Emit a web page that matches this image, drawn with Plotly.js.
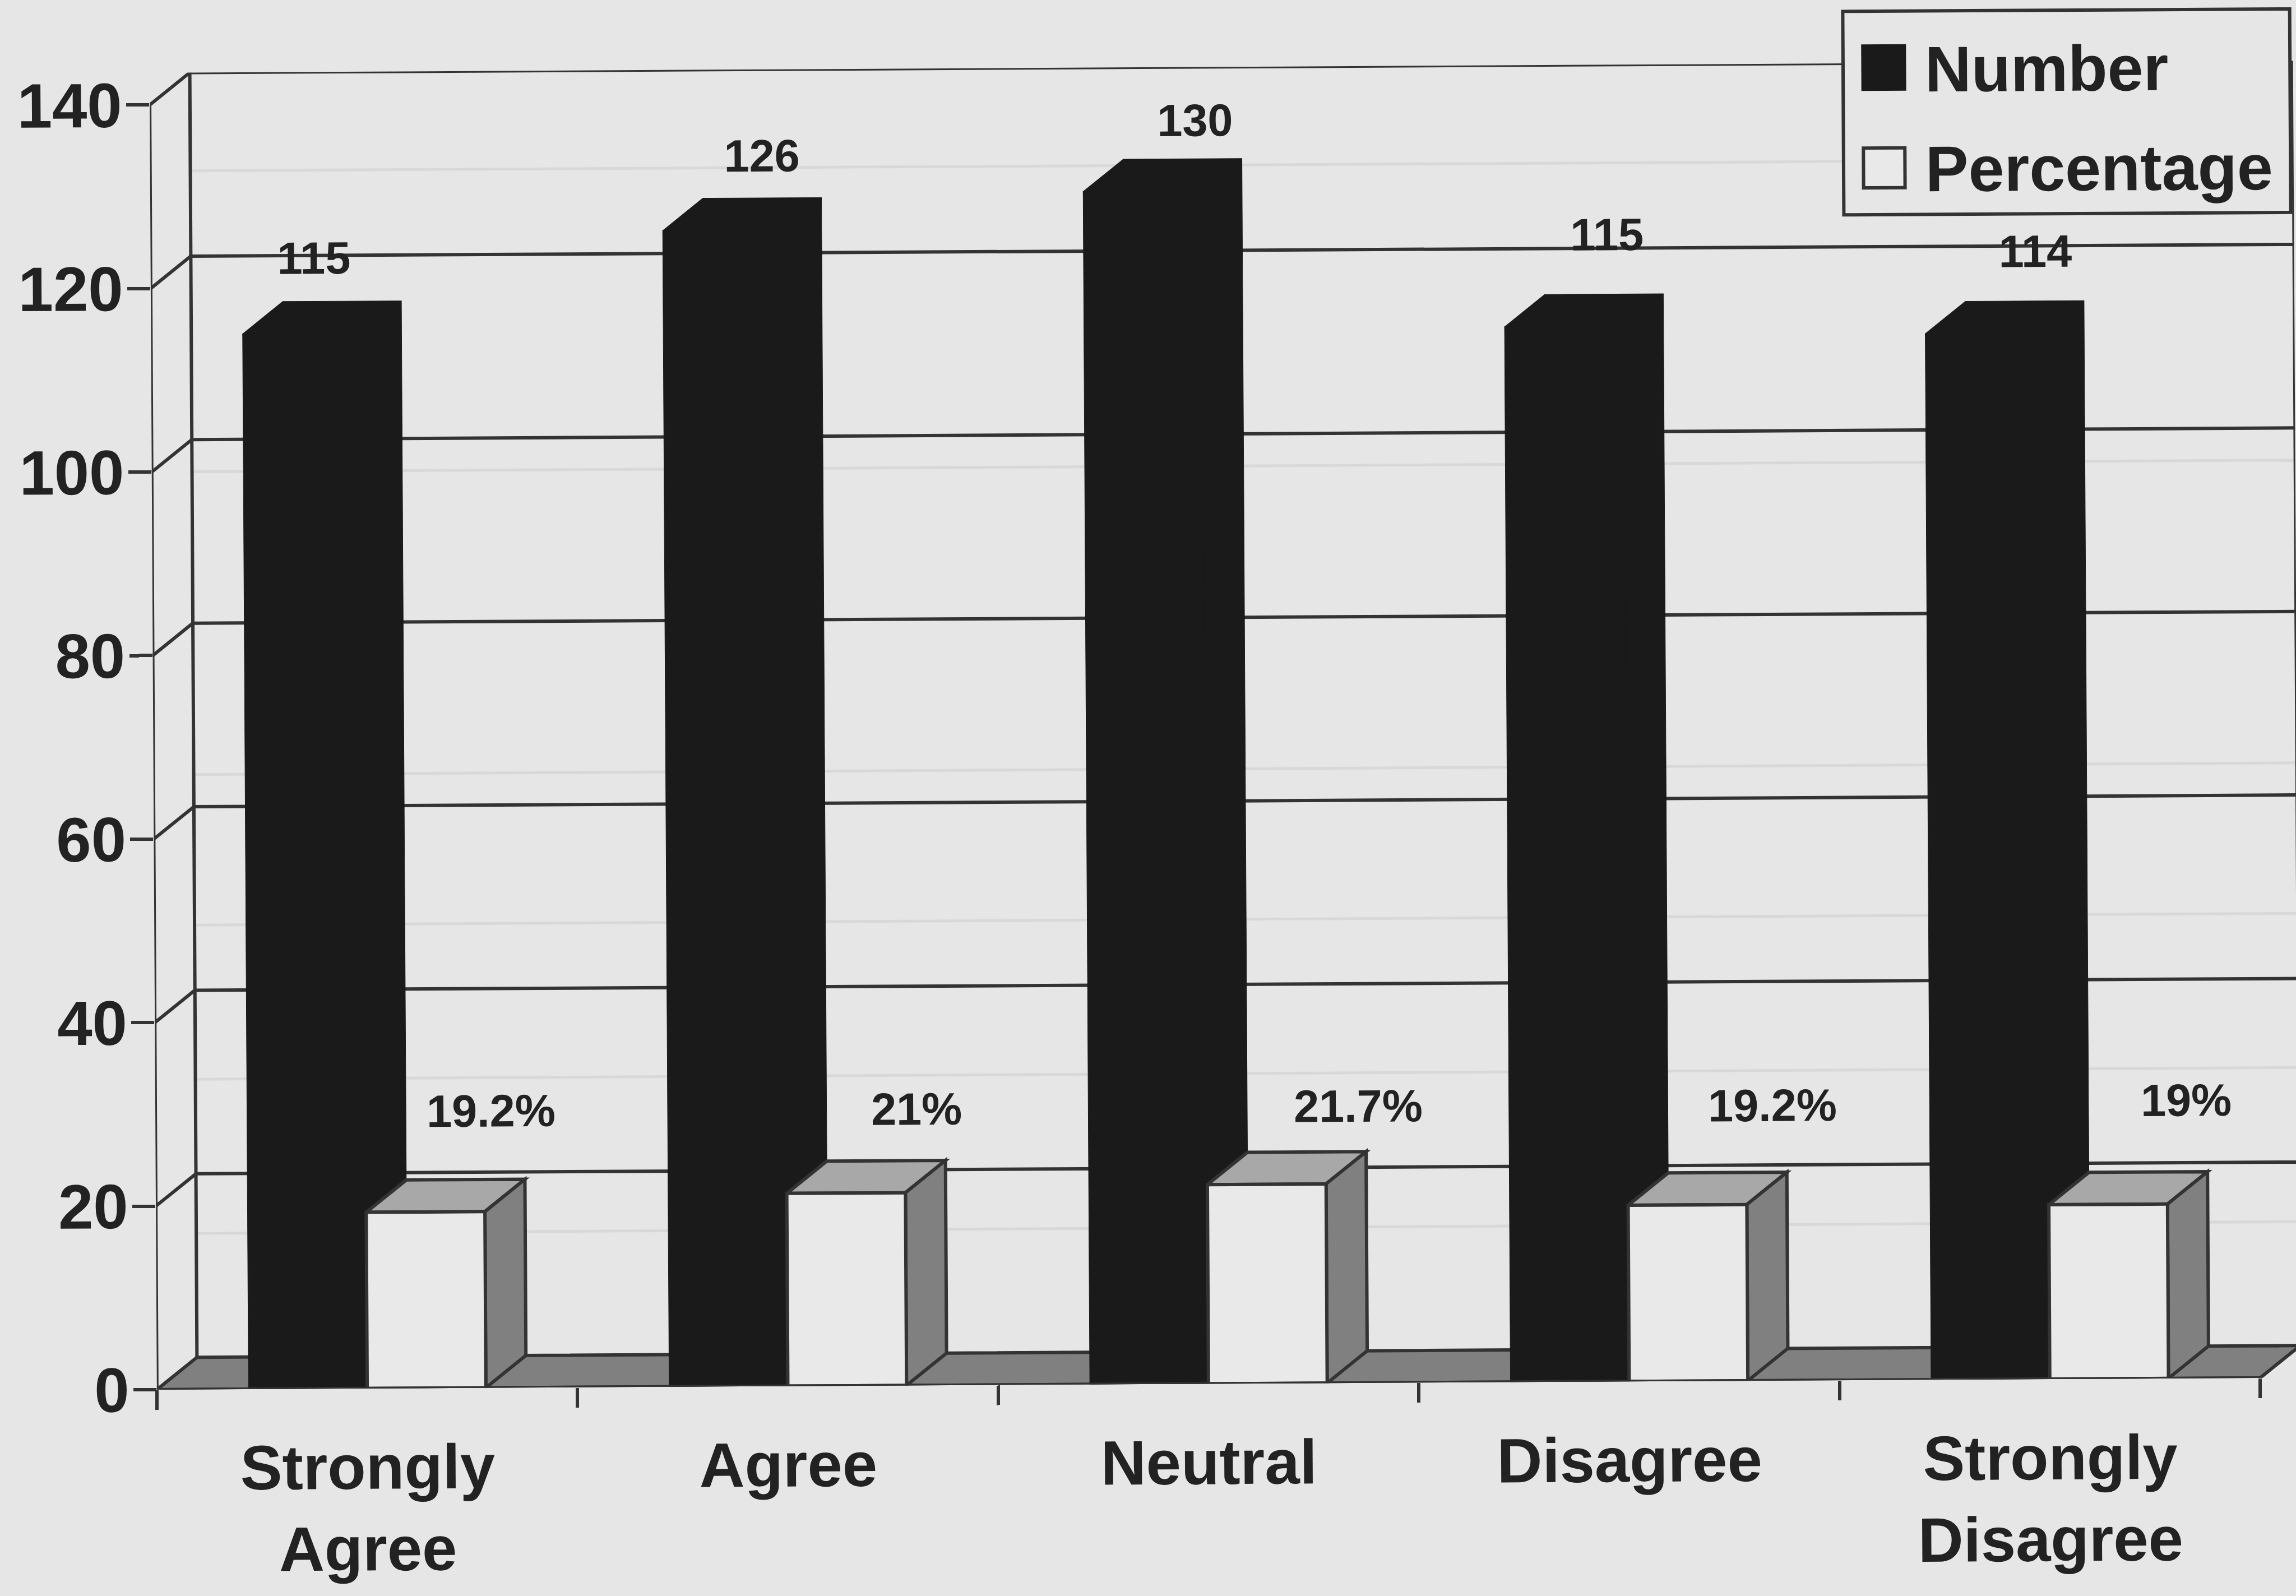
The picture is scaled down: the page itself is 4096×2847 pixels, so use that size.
<!DOCTYPE html>
<html>
<head>
<meta charset="utf-8">
<script src="https://cdn.plot.ly/plotly-3.0.1.min.js"></script>
<style>
  html, body { margin: 0; padding: 0; width: 4096px; height: 2847px; overflow: hidden; background: #e6e6e6; }
  #chart { width: 4200px; height: 2847px; transform-origin: 2048px 1423.5px; transform: rotate(-0.32deg); }
</style>
</head>
<body>
<div id="chart"></div>
<script>
// Survey responses: counts and shares per answer
const categories = ['Strongly<br>Agree', 'Agree', 'Neutral', 'Disagree', 'Strongly<br>Disagree'];
const numberValues = [115, 126, 130, 115, 114];
const percentValues = [19.2, 21, 21.7, 19.2, 19];
const yTicks = [0, 20, 40, 60, 80, 100, 120, 140];

// Hand-placed label anchors, in axis units
const numberLabelX = [-0.111, 0.954, 1.984, 2.963, 3.981];
const numberLabelY = [123.2, 134.1, 137.7, 125.0, 122.9];
const percentLabelX = [0.298, 1.31, 2.36, 3.344, 4.328];
const percentLabelY = [30.2, 30.1, 30.2, 30.0, 30.3];

// Faint lines printed through from the other side of the sheet, in axis units
const throughLevels = [132.8, 100, 67, 50.6, 33.8, 17];

// Extrusion of the pseudo-3D box, in axis units
const depthX = 0.0957;
const depthY = 3.5;
const barWidth = 0.282;

const INK = '#333333';
const BLACK = '#1a1a1a';
const PAPER = '#e6e6e6';
const FACE = '#e9e9e9';
const SIDE = '#808080';
const TOP = '#a8a8a8';
const LINE = 6;
const FONT = '"Liberation Sans", Arial, sans-serif';

const margin = { l: 273.5, r: 101.5, t: 119.7, b: 378, pad: 0 };
const plotW = 4200 - margin.l - margin.r;
const plotH = 2847 - margin.t - margin.b;
const px = x => (x - margin.l) / plotW;
const py = y => 1 - (y - margin.t) / plotH;

const xLeft = -0.5;
const xRight = categories.length - 0.5;

const poly = pts => 'M' + pts.map(p => p[0] + ',' + p[1]).join('L') + 'Z';
const shapes = [];

function face(pts, fill, layer) {
  shapes.push({ type: 'path', xref: 'x', yref: 'y', layer: layer || 'below', path: poly(pts),
                fillcolor: fill, line: { color: INK, width: LINE } });
}
function segment(x0, y0, x1, y1, layer) {
  shapes.push({ type: 'line', xref: 'x', yref: 'y', layer: layer || 'below', x0, y0, x1, y1,
                line: { color: INK, width: LINE } });
}

throughLevels.forEach(v => shapes.push({
  type: 'line', xref: 'x', yref: 'y', layer: 'below', x0: xLeft + depthX, x1: xRight + depthX, y0: v, y1: v,
  line: { color: '#d8d8d8', width: 5 }
}));

// Floor and walls
face([[xLeft, 0], [xLeft + depthX, depthY], [xRight + depthX, depthY], [xRight, 0]], SIDE);
segment(xLeft + depthX, depthY, xLeft + depthX, 140 + depthY);
segment(xRight + depthX, depthY, xRight + depthX, 140 + depthY);
segment(xLeft, 0, xLeft, 140);
yTicks.filter(v => v > 0).forEach(v => {
  segment(xLeft, v, xLeft + depthX, v + depthY);
  segment(xLeft + depthX, v + depthY, xRight + depthX, v + depthY);
});

// Depth of the black bars: a single dark silhouette
numberValues.forEach((v, i) => {
  const a = i - barWidth, b = i;
  shapes.push({ type: 'path', xref: 'x', yref: 'y', layer: 'below',
    path: poly([[a, v], [a + depthX, v + depthY], [b + depthX, v + depthY], [b + depthX, depthY], [b, 0]]),
    fillcolor: BLACK, line: { color: BLACK, width: 1 } });
});

// Depth of the pale bars: grey top and side
percentValues.forEach((v, i) => {
  const a = i, b = i + barWidth;
  face([[a, v], [a + depthX, v + depthY], [b + depthX, v + depthY], [b, v]], TOP);
  face([[b, 0], [b + depthX, depthY], [b + depthX, v + depthY], [b, v]], SIDE);
});

segment(xLeft, 0, xRight, 0, 'above');

// Legend panel
const box = (x0, y0, x1, y1, fill, color) => shapes.push({
  type: 'rect', xref: 'paper', yref: 'paper', layer: 'above',
  x0: px(x0), x1: px(x1), y0: py(y0), y1: py(y1), fillcolor: fill, line: { color, width: LINE }
});
box(3295.5, 27, 4093, 390, PAPER, INK);
box(3331, 89, 3405, 166, BLACK, BLACK);
box(3331, 271, 3405, 342, FACE, INK);

const valueLabel = (x, y, text) => ({
  x, y, xref: 'x', yref: 'y', text, showarrow: false, xanchor: 'center', yanchor: 'middle',
  font: { family: FONT, size: 81, color: '#222222', weight: 700 }
});
const legendLabel = (y, text) => ({
  x: px(3439), y: py(y), xref: 'paper', yref: 'paper', text, showarrow: false, xanchor: 'left', yanchor: 'middle',
  font: { family: FONT, size: 115, color: '#222222', weight: 700 }
});

const annotations = [
  ...numberValues.map((v, i) => valueLabel(numberLabelX[i], numberLabelY[i], String(v))),
  ...percentValues.map((v, i) => valueLabel(percentLabelX[i], percentLabelY[i], v + '%')),
  legendLabel(131, 'Number'),
  legendLabel(309, 'Percentage')
];

const traces = [
  { type: 'bar', name: 'Number', x: categories, y: numberValues,
    marker: { color: BLACK, line: { color: BLACK, width: 1 } }, hoverinfo: 'skip' },
  { type: 'bar', name: 'Percentage', x: categories, y: percentValues,
    marker: { color: FACE, line: { color: INK, width: LINE } }, hoverinfo: 'skip' }
];

const layout = {
  width: 4200, height: 2847, margin,
  paper_bgcolor: 'rgba(0,0,0,0)', plot_bgcolor: 'rgba(0,0,0,0)',
  showlegend: false, barmode: 'group', bargap: 0.4356, bargroupgap: 0,
  font: { family: FONT, color: '#222222' },
  xaxis: {
    type: 'category', range: [xLeft, xRight + depthX], showgrid: false, zeroline: false, showline: false,
    tickson: 'boundaries', ticks: 'outside', ticklen: 35, tickwidth: 6, tickcolor: INK,
    tickfont: { family: FONT, size: 112, color: '#222222', weight: 700 }, ticklabelstandoff: 66
  },
  yaxis: {
    range: [0, 140 + depthY], tickvals: yTicks, showgrid: false, zeroline: false, showline: false,
    ticks: 'outside', ticklen: 41, tickwidth: 6, tickcolor: INK,
    tickfont: { family: FONT, size: 112, color: '#222222', weight: 700 }, ticklabelstandoff: -15
  },
  shapes, annotations
};

Plotly.newPlot('chart', traces, layout, { displayModeBar: false, staticPlot: true });
</script>
</body>
</html>
